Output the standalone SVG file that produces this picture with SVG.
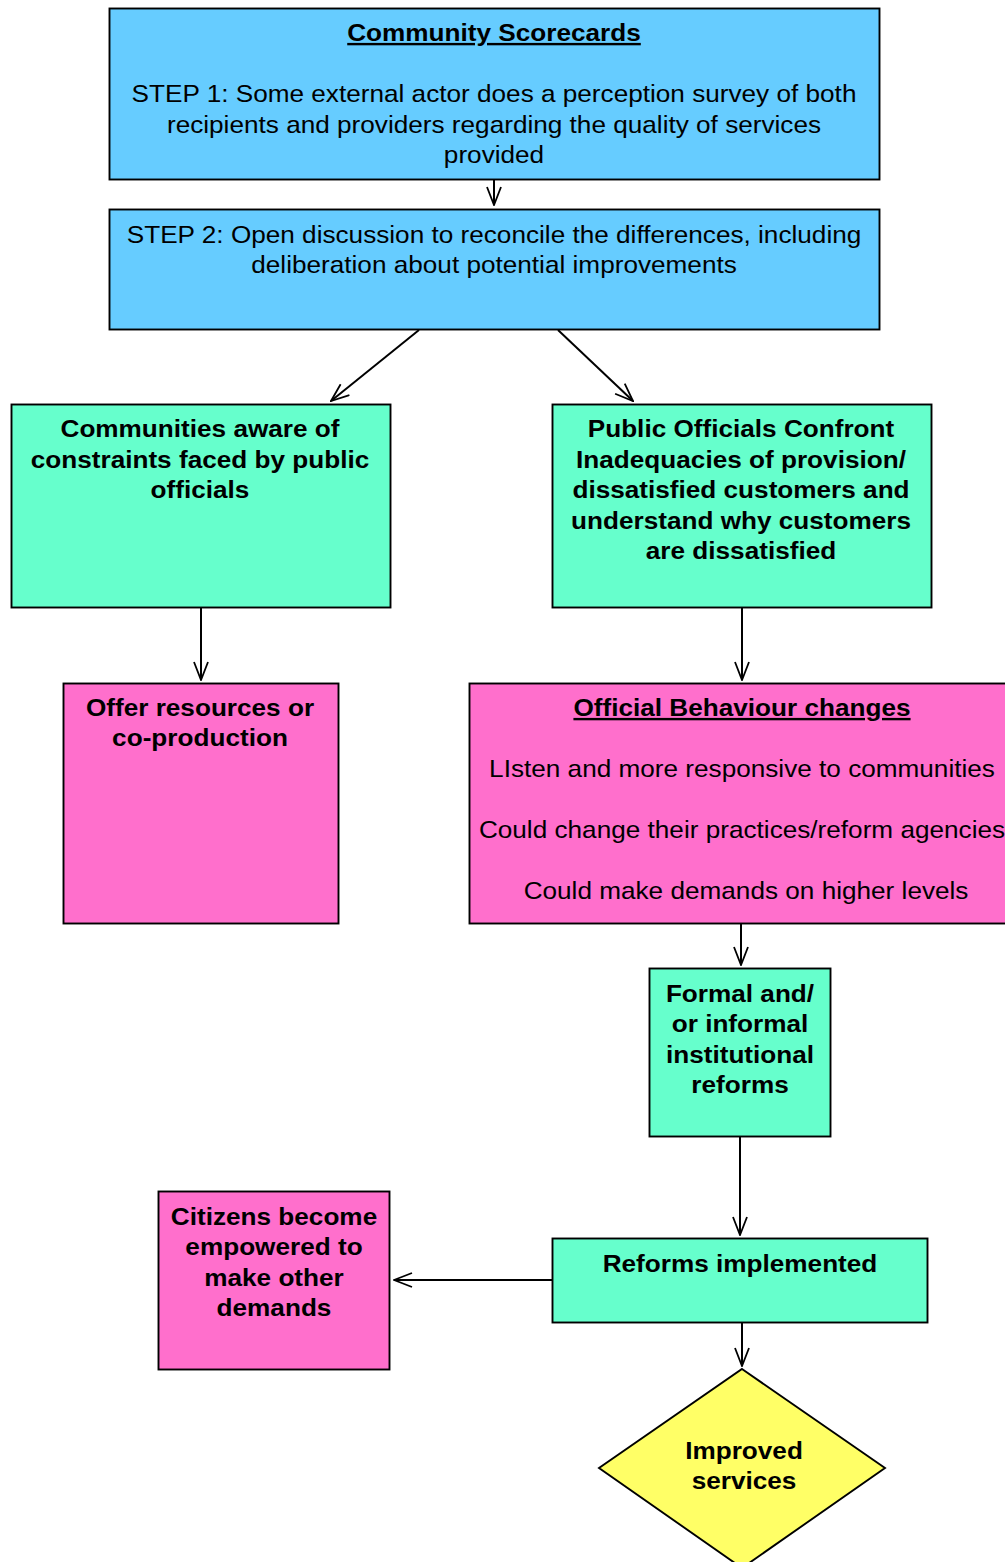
<svg xmlns="http://www.w3.org/2000/svg" width="1005" height="1562" viewBox="0 0 1005 1562">
<defs>
<marker id="arr" markerUnits="userSpaceOnUse" markerWidth="20" markerHeight="16" viewBox="0 0 20 16" refX="19" refY="8" orient="auto">
<path d="M1,1 L19,8 L1,15" fill="none" stroke="#000" stroke-width="1.8"/>
</marker>
<style>
.box{stroke:#000;stroke-width:1.9}
.blue{fill:#66CCFF}
.green{fill:#66FFCC}
.pink{fill:#FF6FCC}
.yellow{fill:#FFFF66}
text{font-family:"Liberation Sans",Arial,sans-serif;font-size:24px;fill:#000;text-anchor:middle}
.b{font-weight:bold}
.u{text-decoration:underline}
.conn line{stroke:#000;stroke-width:2;marker-end:url(#arr)}
</style>
</defs>
<rect width="1005" height="1562" fill="#fff"/>
<g id="n1">
<rect class="box blue" x="109.5" y="8.5" width="770" height="171"/>
<g transform="translate(494 0) scale(1.09 1)">
<text x="0" y="41" class="b u">Community Scorecards</text>
<text x="0" y="102">STEP 1: Some external actor does a perception survey of both</text>
<text x="0" y="133">recipients and providers regarding the quality of services</text>
<text x="0" y="163">provided</text>
</g>
</g>
<g id="n2">
<rect class="box blue" x="109.5" y="209.5" width="770" height="120"/>
<g transform="translate(494 0) scale(1.09 1)">
<text x="0" y="243">STEP 2: Open discussion to reconcile the differences, including</text>
<text x="0" y="273">deliberation about potential improvements</text>
</g>
</g>
<g id="n3">
<rect class="box green" x="11.5" y="404.5" width="379" height="203"/>
<g transform="translate(200 0) scale(1.09 1)">
<text x="0" y="437" class="b">Communities aware of</text>
<text x="0" y="468" class="b">constraints faced by public</text>
<text x="0" y="498" class="b">officials</text>
</g>
</g>
<g id="n4">
<rect class="box green" x="552.5" y="404.5" width="379" height="203"/>
<g transform="translate(741 0) scale(1.09 1)">
<text x="0" y="437" class="b">Public Officials Confront</text>
<text x="0" y="468" class="b">Inadequacies of provision/</text>
<text x="0" y="498" class="b">dissatisfied customers and</text>
<text x="0" y="529" class="b">understand why customers</text>
<text x="0" y="559" class="b">are dissatisfied</text>
</g>
</g>
<g id="n5">
<rect class="box pink" x="63.5" y="683.5" width="275" height="240"/>
<g transform="translate(200 0) scale(1.09 1)">
<text x="0" y="716" class="b">Offer resources or</text>
<text x="0" y="746" class="b">co-production</text>
</g>
</g>
<g id="n6">
<rect class="box pink" x="469.5" y="683.5" width="545" height="240"/>
<g transform="translate(742 0) scale(1.09 1)">
<text x="0" y="716" class="b u">Official Behaviour changes</text>
<text x="0" y="777">LIsten and more responsive to communities</text>
<text x="0" y="838">Could change their practices/reform agencies</text>
<text x="3.7" y="899">Could make demands on higher levels</text>
</g>
</g>
<g id="n7">
<rect class="box green" x="649.5" y="968.5" width="181" height="168"/>
<g transform="translate(740 0) scale(1.09 1)">
<text x="0" y="1002" class="b">Formal and/</text>
<text x="0" y="1032" class="b">or informal</text>
<text x="0" y="1063" class="b">institutional</text>
<text x="0" y="1093" class="b">reforms</text>
</g>
</g>
<g id="n8">
<rect class="box green" x="552.5" y="1238.5" width="375" height="84"/>
<g transform="translate(740 0) scale(1.09 1)">
<text x="0" y="1272" class="b">Reforms implemented</text>
</g>
</g>
<g id="n9">
<rect class="box pink" x="158.5" y="1191.5" width="231" height="178"/>
<g transform="translate(274 0) scale(1.09 1)">
<text x="0" y="1225" class="b">Citizens become</text>
<text x="0" y="1255" class="b">empowered to</text>
<text x="0" y="1286" class="b">make other</text>
<text x="0" y="1316" class="b">demands</text>
</g>
</g>
<g id="n10">
<polygon class="box yellow" points="742,1369 885,1468 742,1568 599,1468"/>
<g transform="translate(744 0) scale(1.09 1)">
<text x="0" y="1459" class="b">Improved</text>
<text x="0" y="1489" class="b">services</text>
</g>
</g>
<g id="connectors" class="conn">
<line x1="494" y1="180" x2="494" y2="205"/>
<line x1="419" y1="330" x2="331" y2="401"/>
<line x1="558" y1="330" x2="633" y2="401"/>
<line x1="201" y1="608" x2="201" y2="680"/>
<line x1="742" y1="608" x2="742" y2="680"/>
<line x1="741" y1="924" x2="741" y2="965"/>
<line x1="740" y1="1137" x2="740" y2="1235"/>
<line x1="552" y1="1280" x2="394" y2="1280"/>
<line x1="742" y1="1323" x2="742" y2="1366"/>
</g>
</svg>
